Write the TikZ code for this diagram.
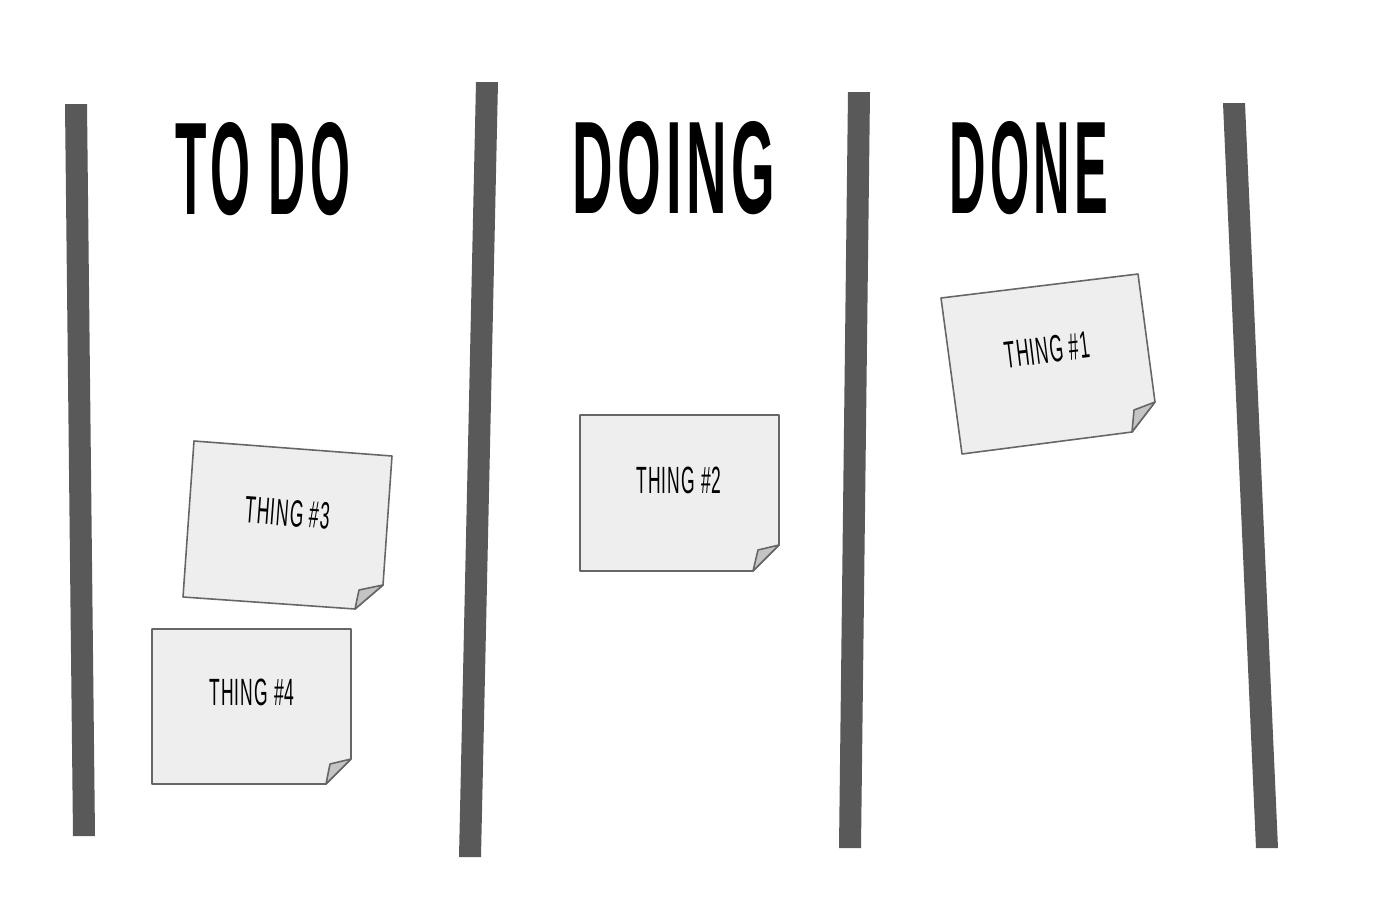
\documentclass[tikz,border=0pt]{standalone}
\usepackage{fontspec}
\usepackage{graphicx}
\setmainfont{Liberation Sans}
\newfontfamily\titlefont[LetterSpace=8]{Liberation Sans}
\newfontfamily\labelfont[LetterSpace=6]{Liberation Sans}
\definecolor{barcol}{HTML}{595959}
\definecolor{notefill}{HTML}{EEEEEE}
\definecolor{noteline}{HTML}{666666}
\definecolor{foldfill}{HTML}{C4C4C4}
\newcommand{\titletext}[3]{\resizebox{#1}{#2}{\titlefont\bfseries #3}}
\newcommand{\notetext}[1]{\resizebox{0.85cm}{0.265cm}{\labelfont #1}}
\begin{document}
\begin{tikzpicture}[x=0.01cm,y=-0.01cm,
  bar/.style={fill=barcol,draw=none},
  note/.style={fill=notefill,draw=noteline,line width=0.45pt,line join=round},
  fold/.style={fill=foldfill,draw=noteline,line width=0.45pt,line join=round},
  title/.style={inner sep=0pt,text=black},
  label/.style={inner sep=0pt,text=black}]
\useasboundingbox[fill=white] (0,0) rectangle (1378,906);
% bars
\fill[bar] (65,104) -- (87,104) -- (95,836) -- (73,836) -- cycle;
\fill[bar] (476,82) -- (498,82) -- (481,857) -- (459,857) -- cycle;
\fill[bar] (848,92) -- (870,92) -- (861,848) -- (839,848) -- cycle;
\fill[bar] (1223,103) -- (1245,103) -- (1278,848) -- (1256,848) -- cycle;
% titles
\node[title] (todo) at (263,169) {\titletext{1.74cm}{0.92cm}{TO DO}};
\node[title] (doing) at (674,168) {\titletext{2.02cm}{0.92cm}{DOING}};
\node[title] (done) at (1029,168) {\titletext{1.58cm}{0.92cm}{DONE}};
% thing 3
\draw[note] (194,441) -- (392,456) -- (383,585) -- (355,609) -- (183,597) -- cycle;
\draw[fold] (383,585) -- (359,590) -- (355,609) -- cycle;
\node[label,rotate=-4.3] (t3) at (288,513) {\notetext{THING \#3}};
% thing 4
\draw[note] (152,629) -- (351,629) -- (351,759) -- (326,784) -- (152,784) -- cycle;
\draw[fold] (351,759) -- (330,764) -- (326,784) -- cycle;
\node[label] (t4) at (252,692) {\notetext{THING \#4}};
% thing 2
\draw[note] (580,415) -- (779,415) -- (779,545) -- (753,571) -- (580,571) -- cycle;
\draw[fold] (779,545) -- (758,550) -- (753,571) -- cycle;
\node[label] (t2) at (679,480) {\notetext{THING \#2}};
% thing 1
\draw[note] (941,298) -- (1138,274) -- (1155,402) -- (1132,432) -- (962,454) -- cycle;
\draw[fold] (1155,402) -- (1134,410) -- (1132,432) -- cycle;
\node[label,rotate=7] (t1) at (1047,350) {\notetext{THING \#1}};
\end{tikzpicture}
\end{document}
